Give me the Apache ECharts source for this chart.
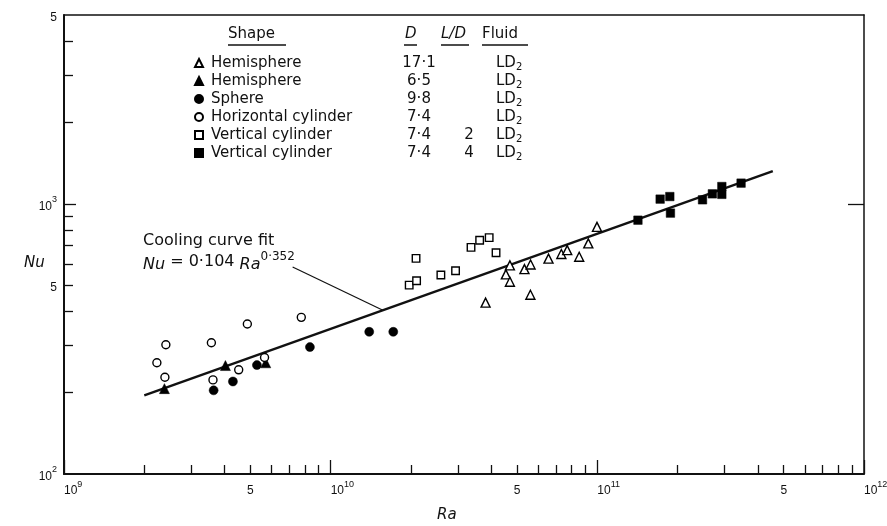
<!DOCTYPE html>
<html><head><meta charset="utf-8">
<script src="https://cdn.jsdelivr.net/npm/echarts@6/dist/echarts.min.js"></script>
<style>html,body{margin:0;padding:0;background:#fff}#c{width:887px;height:526px}</style>
</head><body><div id="c"></div>
<script>
// ---------- data (Ra, Nu) ----------
// Hemisphere, D = 17·1 (open triangles)
const hemi171Ra = [3.81e10, 4.54e10, 4.70e10, 4.70e10, 5.33e10, 5.62e10, 5.61e10, 6.56e10, 7.33e10, 7.71e10, 8.55e10, 9.25e10, 9.97e10];
const hemi171Nu = [431, 548, 592, 515, 573, 596, 461, 627, 652, 674, 637, 714, 822];
// Hemisphere, D = 6·5 (filled triangles)
const hemi65Ra = [2.38e9, 4.03e9, 5.71e9];
const hemi65Nu = [207, 252, 258];
// Sphere, D = 9·8 (filled circles)
const sphereRa = [3.64e9, 4.30e9, 5.29e9, 8.36e9, 1.395e10, 1.717e10];
const sphereNu = [204, 220, 253, 295, 336, 336];
// Horizontal cylinder, D = 7·4 (open circles)
const hcylRa = [2.23e9, 2.41e9, 2.39e9, 3.57e9, 3.62e9, 4.87e9, 4.52e9, 5.65e9, 7.76e9];
const hcylNu = [258, 301, 228, 306, 223, 359, 243, 270, 380];
// Vertical cylinder, L/D = 2 (open squares)
const vcyl2Ra = [1.97e10, 2.10e10, 2.09e10, 2.59e10, 2.94e10, 3.36e10, 3.62e10, 3.93e10, 4.17e10];
const vcyl2Nu = [500, 519, 628, 545, 565, 690, 733, 750, 659];
// Vertical cylinder, L/D = 4 (filled squares)
const vcyl4Ra = [1.42e11, 1.72e11, 1.87e11, 1.88e11, 2.48e11, 2.70e11, 2.93e11, 2.93e11, 3.46e11];
const vcyl4Nu = [870, 1041, 1064, 924, 1035, 1089, 1084, 1159, 1193];

// cooling-curve fit  Nu = 0·104 Ra^0·352
const fitCoef = 0.104;
const fitExp = 0.352;
const fitRaRange = [2.0e9, 4.55e11];
// annotation leader: from label end (Ra, Nu) to a point on the fit at Ra
const leaderStart = [7.2e9, 584];
const leaderEndRa = 1.57e10;

// legend table
const legendShapes = ['Hemisphere', 'Hemisphere', 'Sphere', 'Horizontal cylinder', 'Vertical cylinder', 'Vertical cylinder'];
const legendD = ['17·1', '6·5', '9·8', '7·4', '7·4', '7·4'];
const legendLD = ['', '', '', '', '2', '4'];
const legendFluid = ['LD', 'LD', 'LD', 'LD', 'LD', 'LD'];
const legendFluidSub = ['2', '2', '2', '2', '2', '2'];
const headerTexts = ['Shape', 'D', 'L/D', 'Fluid'];

// axes
const xRange = [1e9, 1e12];
const yRange = [100, 5000];
const xMajorTicks = [1e9, 1e10, 1e11, 1e12];
const xMinorTicks = [2e9,3e9,4e9,5e9,6e9,7e9,8e9,9e9, 2e10,3e10,4e10,5e10,6e10,7e10,8e10,9e10, 2e11,3e11,4e11,5e11,6e11,7e11,8e11,9e11];
const xDecadeLabels = [1e9, 1e10, 1e11, 1e12];
const xFiveLabels = [5e9, 5e10, 5e11];
const yMajorTicks = [1e3];
const yMinorTicks = [2e2,3e2,4e2,5e2,6e2,7e2,8e2,9e2, 2e3,3e3,4e3];
const yLabelValues = [100, 500, 1000, 5000];
const xTitle = 'Ra';
const yTitle = 'Nu';
const fitLabel1 = 'Cooling curve fit';

// ---------- chart ----------
const FONT = 'DejaVu Sans';
const TICKFONT = 'Liberation Sans';
const INK = '#111';
const chart = echarts.init(document.getElementById('c'), null, {renderer: 'canvas'});

const pow10Label = v => {
  const e = Math.round(Math.log10(v));
  if (Math.abs(Math.log10(v) - e) < 1e-6) return '{b|10}{s|' + e + '}';
  return '{b|' + Math.round(v / Math.pow(10, Math.floor(Math.log10(v) + 1e-9))) + '}';
};
const labelRich = {
  b: {fontSize: 12, fontFamily: TICKFONT, color: INK, verticalAlign: 'bottom', padding: [5, 0, 0, 0]},
  s: {fontSize: 9, fontFamily: TICKFONT, color: INK, verticalAlign: 'top'}
};

const baseX = {type: 'log', logBase: 10, min: xRange[0], max: xRange[1], splitLine: {show: false}, minorTick: {show: false}, minorSplitLine: {show: false}};
const baseY = {type: 'log', logBase: 10, min: yRange[0], max: yRange[1], splitLine: {show: false}, minorTick: {show: false}, minorSplitLine: {show: false}};
const tickLine = {color: INK, width: 1.3};

const toPairs = (xs, ys) => xs.map((x, i) => [x, ys[i]]);
const specs = [
  {Ra: hemi171Ra, Nu: hemi171Nu, symbol: 'triangle', size: 9, filled: false},
  {Ra: hemi65Ra, Nu: hemi65Nu, symbol: 'triangle', size: 10, filled: true},
  {Ra: sphereRa, Nu: sphereNu, symbol: 'circle', size: 9, filled: true},
  {Ra: hcylRa, Nu: hcylNu, symbol: 'circle', size: 8, filled: false},
  {Ra: vcyl2Ra, Nu: vcyl2Nu, symbol: 'rect', size: 7.5, filled: false},
  {Ra: vcyl4Ra, Nu: vcyl4Nu, symbol: 'rect', size: 8.5, filled: true}
];
const seriesNames = legendShapes.map((s, i) => s + ' ' + legendD[i] + ' ' + legendLD[i]);

const scatterSeries = specs.map((sp, i) => ({
  type: 'scatter', name: seriesNames[i], xAxisIndex: 0, yAxisIndex: 0,
  symbol: sp.symbol, symbolSize: sp.size, z: 5,
  itemStyle: sp.filled ? {color: '#000', borderColor: '#000', borderWidth: 0.5, opacity: 1}
                       : {color: '#fff', borderColor: '#000', borderWidth: 1.4, opacity: 1},
  emphasis: {disabled: true},
  data: toPairs(sp.Ra, sp.Nu)
}));

const fitNu = r => fitCoef * Math.pow(r, fitExp);

const option = {
  animation: false,
  backgroundColor: '#fff',
  grid: {left: 64, right: 23, top: 15, bottom: 52, containLabel: false, outerBoundsMode: 'none'},
  xAxis: [
    Object.assign({}, baseX, {position: 'bottom',
      axisLine: {show: true, onZero: false, lineStyle: {color: INK, width: 2}},
      axisTick: {show: true, inside: true, length: 14, customValues: xMajorTicks, lineStyle: tickLine},
      axisLabel: {show: true, customValues: xDecadeLabels, formatter: pow10Label, align: 'left', margin: 6, rich: labelRich}}),
    Object.assign({}, baseX, {position: 'bottom',
      axisLine: {show: false, onZero: false},
      axisTick: {show: true, inside: true, length: 9, customValues: xMinorTicks, lineStyle: tickLine},
      axisLabel: {show: true, customValues: xFiveLabels, formatter: pow10Label, align: 'center', margin: 6, rich: labelRich}}),
    Object.assign({}, baseX, {position: 'top',
      axisLine: {show: true, onZero: false, lineStyle: {color: INK, width: 1.5}},
      axisTick: {show: false}, axisLabel: {show: false}})
  ],
  yAxis: [
    Object.assign({}, baseY, {position: 'left',
      axisLine: {show: true, onZero: false, lineStyle: {color: INK, width: 2}},
      axisTick: {show: true, inside: true, length: 12, customValues: yMajorTicks, lineStyle: tickLine},
      axisLabel: {show: true, customValues: yLabelValues, formatter: pow10Label, margin: 7, rich: labelRich}}),
    Object.assign({}, baseY, {position: 'left',
      axisLine: {show: false, onZero: false},
      axisTick: {show: true, inside: true, length: 9, customValues: yMinorTicks, lineStyle: tickLine},
      axisLabel: {show: false}}),
    Object.assign({}, baseY, {position: 'right',
      axisLine: {show: true, onZero: false, lineStyle: {color: INK, width: 1.5}},
      axisTick: {show: true, inside: true, length: 16, customValues: yMajorTicks, lineStyle: tickLine},
      axisLabel: {show: false}})
  ],
  legend: {
    orient: 'vertical', left: 189, top: 49, itemGap: 0, itemWidth: 8, itemHeight: 8,
    selectedMode: false, data: seriesNames,
    formatter: name => {
      const i = seriesNames.indexOf(name);
      return '{n|' + legendShapes[i] + '}{d|' + legendD[i] + '}{l|' + legendLD[i] + '}{f|' + legendFluid[i] + '}{s|' + legendFluidSub[i] + '}';
    },
    textStyle: {
      fontFamily: FONT, fontSize: 15, color: INK,
      rich: {
        n: {fontFamily: FONT, fontSize: 15, color: INK, width: 185, lineHeight: 18, padding: [0, 0, 0, 3]},
        d: {fontFamily: FONT, fontSize: 15, color: INK, width: 46, align: 'center', lineHeight: 18},
        l: {fontFamily: FONT, fontSize: 15, color: INK, width: 54, align: 'center', lineHeight: 18},
        f: {fontFamily: FONT, fontSize: 15, color: INK, lineHeight: 18},
        s: {fontFamily: FONT, fontSize: 10, color: INK, lineHeight: 10, padding: [8, 0, 0, 0]}
      }
    }
  },
  graphic: [
    // legend header
    {type: 'text', left: 228, top: 27, style: {text: headerTexts[0], font: '15px "DejaVu Sans"', fill: INK}},
    {type: 'text', left: 405, top: 27, style: {text: headerTexts[1], font: 'italic 15px "DejaVu Sans"', fill: INK}},
    {type: 'text', left: 441, top: 27, style: {text: headerTexts[2], font: 'italic 15px "DejaVu Sans"', fill: INK}},
    {type: 'text', left: 482, top: 27, style: {text: headerTexts[3], font: '15px "DejaVu Sans"', fill: INK}},
    {type: 'line', shape: {x1: 228, y1: 45, x2: 286, y2: 45}, style: {stroke: INK, lineWidth: 1.5}},
    {type: 'line', shape: {x1: 404, y1: 45, x2: 417, y2: 45}, style: {stroke: INK, lineWidth: 1.5}},
    {type: 'line', shape: {x1: 441, y1: 45, x2: 469, y2: 45}, style: {stroke: INK, lineWidth: 1.5}},
    {type: 'line', shape: {x1: 482, y1: 45, x2: 528, y2: 45}, style: {stroke: INK, lineWidth: 1.5}},
    // fit annotation
    {type: 'text', left: 143, top: 233, style: {text: fitLabel1, font: '16px "DejaVu Sans"', fill: INK}},
    {type: 'text', left: 143, top: 251, style: {
      text: '{i|Nu} = 0·104 {i|Ra}{sup|0·352}',
      font: '16px "DejaVu Sans"', fill: INK,
      rich: {
        i: {fontFamily: FONT, fontStyle: 'italic', fontSize: 16, fill: INK, verticalAlign: 'bottom', padding: [6, 0, 0, 0]},
        sup: {fontFamily: FONT, fontSize: 12, fill: INK, verticalAlign: 'top'}
      }}},
    // axis titles
    {type: 'text', left: 24, top: 256, style: {text: yTitle, font: 'italic 15px "DejaVu Sans"', fill: INK}},
    {type: 'text', left: 437, top: 508, style: {text: xTitle, font: 'italic 15px "DejaVu Sans"', fill: INK}}
  ],
  series: [
    {type: 'line', name: 'fit', xAxisIndex: 0, yAxisIndex: 0, symbol: 'none', z: 3, silent: true,
     lineStyle: {color: INK, width: 2.4},
     data: fitRaRange.map(r => [r, fitNu(r)])},
    {type: 'line', name: 'leader', xAxisIndex: 0, yAxisIndex: 0, symbol: 'none', z: 3, silent: true,
     lineStyle: {color: INK, width: 1.2},
     data: [leaderStart, [leaderEndRa, fitNu(leaderEndRa)]]}
  ].concat(scatterSeries)
};
chart.setOption(option);
</script>
</body></html>
